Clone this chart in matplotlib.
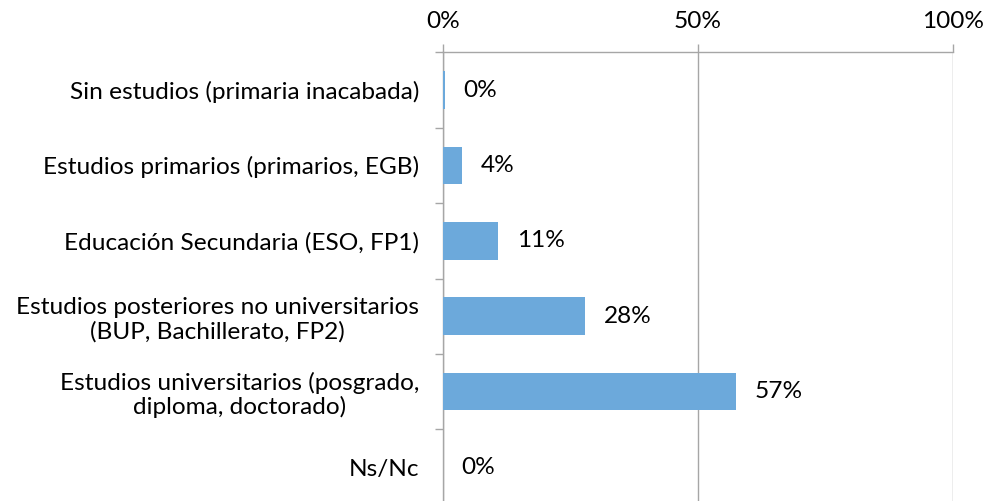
import matplotlib
matplotlib.use("Agg")
import matplotlib.pyplot as plt
from matplotlib.ticker import FixedLocator, PercentFormatter

# datos
categorias = [
    "Sin estudios (primaria inacabada)",
    "Estudios primarios (primarios, EGB)",
    "Educación Secundaria (ESO, FP1)",
    "Estudios posteriores no universitarios\n(BUP, Bachillerato, FP2)",
    "Estudios universitarios (posgrado,\ndiploma, doctorado)",
    "Ns/Nc",
]
valores = [0.4, 3.7, 10.8, 27.9, 57.4, 0.0]
ticks_x = [0, 50, 100]

plt.rcParams["font.family"] = ["Lato", "DejaVu Sans"]
gris = "#A6A6A6"
fs = 17.6

fig = plt.figure(figsize=(9.86, 5.01), dpi=100)
ax = fig.add_axes([0.449, -0.0074, 0.5179, 0.903])

pos = list(range(len(categorias)))
ax.barh(pos, valores, height=0.5, color="#6CA9DB", zorder=3)
for p, v in zip(pos, valores):
    ax.text(v + 3.7, p, f"{v:.0f}%", va="center", ha="left", fontsize=fs, color="#000000")

ax.set_xlim(0, 100)
ax.set_ylim(len(categorias) - 0.5, -0.5)
ax.xaxis.tick_top()
ax.xaxis.set_major_locator(FixedLocator(ticks_x))
ax.xaxis.set_major_formatter(PercentFormatter(decimals=0))
ax.tick_params(axis="x", which="major", length=6, width=1, color=gris, pad=8.5,
               labelsize=fs, labelcolor="#000000")
ax.grid(axis="x", color=gris, linewidth=1, zorder=0)

ax.set_yticks(pos)
ax.set_yticklabels(categorias, multialignment="center", linespacing=1.15)
ax.yaxis.set_minor_locator(FixedLocator([i + 0.5 for i in range(-1, len(categorias))]))
ax.tick_params(axis="y", which="major", length=0, pad=17, labelsize=fs, labelcolor="#000000")
ax.tick_params(axis="y", which="minor", length=6, width=1, color=gris)

for lado in ["right", "bottom"]:
    ax.spines[lado].set_visible(False)
for lado in ["top", "left"]:
    ax.spines[lado].set_color(gris)
    ax.spines[lado].set_linewidth(1)

fig.savefig("out.png", dpi=100)
